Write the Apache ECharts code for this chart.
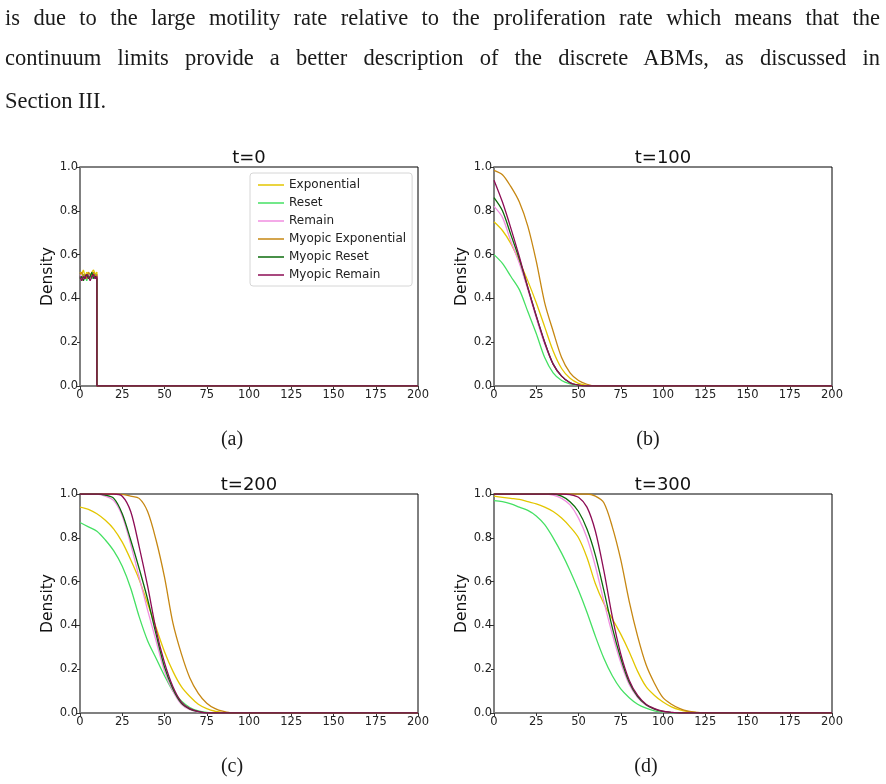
<!DOCTYPE html>
<html>
<head>
<meta charset="utf-8">
<script src="https://cdn.jsdelivr.net/npm/echarts@6/dist/echarts.min.js"></script>
<style>
    html, body { margin: 0; padding: 0; background: #fff; }
    #main { position: absolute; left: 0; top: 0; width: 886px; height: 784px; }
    .line { position: absolute; left: 5px; width: 875px; font-family: "Liberation Serif", serif; font-size: 22.5px; line-height: 30px; color: #1a1a1a; }
    .just { text-align: justify; text-align-last: justify; }
</style>
</head>
<body>
<div id="main"></div>
<div class="line just" style="top:3px">is due to the large motility rate relative to the proliferation rate which means that the</div>
<div class="line just" style="top:43px">continuum limits provide a better description of the discrete ABMs, as discussed in</div>
<div class="line" style="top:86px">Section III.</div>
<script>
// 各面板的数据
const seriesNames = ['Exponential', 'Reset', 'Remain', 'Myopic Exponential', 'Myopic Reset', 'Myopic Remain'];
const seriesColors = ['#e3c600', '#45e063', '#f08ee0', '#c68712', '#0b6b0b', '#8c0c55'];
const panelTitles = ['t=0', 't=100', 't=200', 't=300'];
const panelCaptions = ['(a)', '(b)', '(c)', '(d)'];

// t=0
const xT0 = [0, 1, 2, 3, 4, 5, 6, 7, 8, 9, 10, 10, 200];
const expT0 = [0.52, 0.51, 0.53, 0.50, 0.52, 0.51, 0.50, 0.52, 0.53, 0.51, 0.52, 0, 0];
const resetT0 = [0.50, 0.49, 0.51, 0.50, 0.48, 0.51, 0.50, 0.49, 0.50, 0.51, 0.50, 0, 0];
const remainT0 = [0.51, 0.50, 0.49, 0.51, 0.50, 0.49, 0.51, 0.50, 0.50, 0.49, 0.51, 0, 0];
const myExpT0 = [0.51, 0.52, 0.50, 0.51, 0.49, 0.52, 0.51, 0.50, 0.52, 0.50, 0.51, 0, 0];
const myResetT0 = [0.49, 0.50, 0.48, 0.50, 0.51, 0.49, 0.50, 0.52, 0.49, 0.50, 0.49, 0, 0];
const myRemainT0 = [0.50, 0.48, 0.50, 0.49, 0.51, 0.50, 0.48, 0.50, 0.51, 0.49, 0.50, 0, 0];

// t=100
const xT100 = [0, 5, 10, 15, 20, 25, 30, 35, 40, 45, 50, 55, 60, 200];
const expT100 = [0.75, 0.71, 0.65, 0.57, 0.48, 0.38, 0.27, 0.16, 0.08, 0.035, 0.012, 0.003, 0, 0];
const resetT100 = [0.60, 0.56, 0.50, 0.44, 0.34, 0.24, 0.13, 0.06, 0.025, 0.01, 0.003, 0, 0, 0];
const remainT100 = [0.82, 0.77, 0.66, 0.56, 0.44, 0.31, 0.19, 0.10, 0.045, 0.015, 0.004, 0, 0, 0];
const myExpT100 = [0.985, 0.965, 0.91, 0.84, 0.73, 0.57, 0.38, 0.25, 0.13, 0.06, 0.025, 0.008, 0, 0];
const myResetT100 = [0.86, 0.80, 0.69, 0.58, 0.45, 0.32, 0.20, 0.10, 0.045, 0.015, 0.004, 0, 0, 0];
const myRemainT100 = [0.94, 0.84, 0.72, 0.59, 0.45, 0.32, 0.20, 0.10, 0.045, 0.015, 0.004, 0, 0, 0];

// t=200
const xT200 = [0, 5, 10, 15, 20, 25, 30, 35, 40, 45, 50, 55, 60, 65, 70, 75, 80, 85, 90, 200];
const expT200 = [0.94, 0.93, 0.91, 0.88, 0.84, 0.78, 0.70, 0.61, 0.50, 0.39, 0.28, 0.19, 0.12, 0.075, 0.04, 0.02, 0.008, 0.002, 0, 0];
const resetT200 = [0.87, 0.85, 0.83, 0.79, 0.74, 0.67, 0.57, 0.44, 0.33, 0.25, 0.17, 0.10, 0.055, 0.025, 0.01, 0.003, 0, 0, 0, 0];
const remainT200 = [1, 1, 1, 0.99, 0.97, 0.90, 0.77, 0.62, 0.47, 0.33, 0.19, 0.10, 0.04, 0.015, 0.005, 0, 0, 0, 0, 0];
const myExpT200 = [1, 1, 1, 1, 1, 0.998, 0.99, 0.98, 0.92, 0.79, 0.62, 0.41, 0.27, 0.16, 0.09, 0.045, 0.02, 0.007, 0, 0];
const myResetT200 = [1, 1, 1, 0.995, 0.98, 0.91, 0.79, 0.66, 0.52, 0.36, 0.21, 0.11, 0.045, 0.018, 0.006, 0, 0, 0, 0, 0];
const myRemainT200 = [1, 1, 1, 1, 1, 0.99, 0.92, 0.76, 0.58, 0.38, 0.23, 0.12, 0.05, 0.02, 0.007, 0, 0, 0, 0, 0];

// t=300
const xT300 = [0, 5, 10, 15, 20, 25, 30, 35, 40, 45, 50, 55, 60, 65, 70, 75, 80, 85, 90, 95, 100, 105, 110, 115, 120, 125, 200];
const expT300 = [0.99, 0.985, 0.98, 0.975, 0.965, 0.955, 0.94, 0.92, 0.89, 0.85, 0.80, 0.71, 0.59, 0.50, 0.43, 0.36, 0.28, 0.19, 0.12, 0.08, 0.05, 0.028, 0.014, 0.006, 0.002, 0, 0];
const resetT300 = [0.97, 0.965, 0.955, 0.94, 0.925, 0.90, 0.86, 0.80, 0.73, 0.65, 0.56, 0.46, 0.35, 0.25, 0.17, 0.11, 0.07, 0.04, 0.022, 0.01, 0.004, 0.001, 0, 0, 0, 0, 0];
const remainT300 = [1, 1, 1, 1, 1, 1, 1, 0.995, 0.98, 0.95, 0.89, 0.80, 0.67, 0.51, 0.36, 0.23, 0.13, 0.07, 0.035, 0.016, 0.006, 0.002, 0, 0, 0, 0, 0];
const myExpT300 = [1, 1, 1, 1, 1, 1, 1, 1, 1, 1, 1, 1, 0.99, 0.96, 0.85, 0.70, 0.51, 0.35, 0.22, 0.135, 0.07, 0.04, 0.02, 0.008, 0.003, 0, 0];
const myResetT300 = [1, 1, 1, 1, 1, 1, 1, 1, 0.99, 0.965, 0.92, 0.84, 0.72, 0.56, 0.39, 0.25, 0.14, 0.075, 0.038, 0.018, 0.007, 0.002, 0, 0, 0, 0, 0];
const myRemainT300 = [1, 1, 1, 1, 1, 1, 1, 1, 1, 0.997, 0.985, 0.94, 0.83, 0.65, 0.44, 0.27, 0.15, 0.08, 0.04, 0.02, 0.008, 0.003, 0, 0, 0, 0, 0];

const panels = [
    {x: xT0, ys: [expT0, resetT0, remainT0, myExpT0, myResetT0, myRemainT0], smooth: false},
    {x: xT100, ys: [expT100, resetT100, remainT100, myExpT100, myResetT100, myRemainT100], smooth: 0.3},
    {x: xT200, ys: [expT200, resetT200, remainT200, myExpT200, myResetT200, myRemainT200], smooth: 0.3},
    {x: xT300, ys: [expT300, resetT300, remainT300, myExpT300, myResetT300, myRemainT300], smooth: 0.3}
];

// 布局
const gridPos = [[80, 167], [494, 167], [80, 494], [494, 494]];
const gridW = 338, gridH = 219;
const captionPos = [[232, 440], [648, 440], [232, 767], [646, 767]];
const font = 'DejaVu Sans';

let grids = [], xAxes = [], yAxes = [], series = [], graphics = [];
gridPos.forEach(([l, t], p) => {
    grids.push({left: l, top: t, width: gridW, height: gridH, show: true, borderColor: '#000', borderWidth: 1});
    xAxes.push({
        type: 'value', gridIndex: p, min: 0, max: 200, interval: 25,
        axisLine: {show: true, onZero: false, lineStyle: {color: '#808080', width: 2}},
        axisTick: {show: true, length: 3, lineStyle: {color: '#333'}},
        axisLabel: {margin: 3, fontSize: 11.5, fontFamily: font, color: '#222', showMinLabel: true, showMaxLabel: true},
        splitLine: {show: false}
    });
    yAxes.push({
        type: 'value', gridIndex: p, min: 0, max: 1, interval: 0.2,
        name: 'Density', nameLocation: 'middle', nameGap: 22,
        nameTextStyle: {fontSize: 15.5, fontFamily: font, color: '#111'},
        axisLine: {show: true, onZero: false, lineStyle: {color: '#808080', width: 2}},
        axisTick: {show: true, length: 3, lineStyle: {color: '#333'}},
        axisLabel: {margin: 2, fontSize: 11.5, fontFamily: font, color: '#222', formatter: v => v.toFixed(1)},
        splitLine: {show: false}
    });
    panels[p].ys.forEach((ys, k) => {
        series.push({
            type: 'line', name: seriesNames[k], xAxisIndex: p, yAxisIndex: p,
            data: panels[p].x.map((x, i) => [x, ys[i]]),
            showSymbol: false, symbol: 'none',
            smooth: panels[p].smooth,
            lineStyle: {width: 1.3, color: seriesColors[k]},
            itemStyle: {color: seriesColors[k]}
        });
    });
    graphics.push({
        type: 'text', x: l + gridW / 2, y: t - 9,
        style: {text: panelTitles[p], fontSize: 18, fontFamily: font, fill: '#111', align: 'center', verticalAlign: 'middle'}
    });
    graphics.push({
        type: 'text', x: captionPos[p][0], y: captionPos[p][1],
        style: {text: panelCaptions[p], fontSize: 20, fontFamily: 'Liberation Serif', fill: '#1a1a1a', align: 'center', verticalAlign: 'middle'}
    });
});

let option = {
    animation: false,
    backgroundColor: 'transparent',
    grid: grids, xAxis: xAxes, yAxis: yAxes, series: series,
    graphic: graphics,
    legend: {
        data: seriesNames, orient: 'vertical', left: 250, top: 173,
        icon: 'rect', itemWidth: 26, itemHeight: 1.5, itemGap: 4, selectedMode: false,
        backgroundColor: '#fff', borderColor: '#d6d6d6', borderWidth: 1, borderRadius: 3,
        padding: [5, 6, 4, 8],
        textStyle: {fontSize: 12, fontFamily: font, color: '#222', lineHeight: 14}
    }
};

let myChart = echarts.init(document.getElementById('main'));
myChart.setOption(option);
</script>
</body>
</html>
